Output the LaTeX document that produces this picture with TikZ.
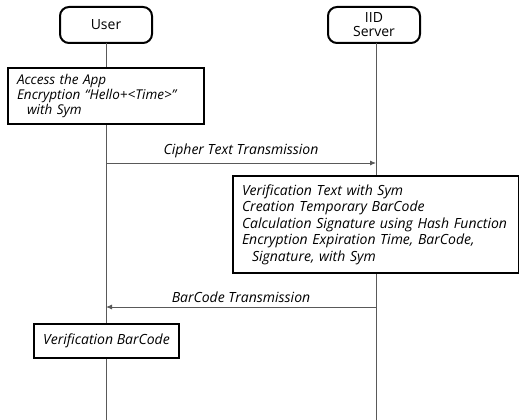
\documentclass[tikz,border=0pt]{standalone}
\usepackage{fontspec}
\setmainfont{Open Sans}
\usetikzlibrary{arrows.meta}
\begin{document}
\begin{tikzpicture}[x=1pt,y=-1pt,
  actor/.style={draw,line width=2pt,rounded corners=9pt,fill=white,
    minimum width=92pt,minimum height=36pt,inner sep=0pt,align=center,
    font=\fontsize{14}{16}\selectfont},
  lifeline/.style={draw=black!65,line width=0.9pt},
  stepbox/.style={draw,line width=2pt,fill=white,anchor=north west,
    inner xsep=9pt,inner ysep=0pt,align=left,
    font=\fontsize{13.5}{15}\selectfont\itshape},
  msg/.style={draw=black!65,line width=0.9pt,-{Latex[length=6pt,width=5pt]}},
  msglabel/.style={font=\fontsize{14}{16}\selectfont\itshape}]
  \useasboundingbox (0,0) rectangle (519,420);
  % participants
  \node[actor] (user) at (106,25) {User};
  \node[actor] (server) at (374,25) {IID\\[-2pt]Server};
  % lifelines
  \coordinate (userend) at (106,420);
  \coordinate (serverend) at (376,420);
  \draw[lifeline] (106,43) -- (userend);
  \draw[lifeline] (376,43) -- (serverend);
  % message anchors on the lifelines
  \coordinate (u1) at (106,163);
  \coordinate (s1) at (376,163);
  \coordinate (s2) at (376,307);
  \coordinate (u2) at (106,307);
  % processing steps
  \node[stepbox,minimum width=196pt,minimum height=56pt,text width=178pt] (access) at (7,67)
    {Access the App\\Encryption “Hello+<Time>”\\\hspace*{10pt}with Sym};
  \node[stepbox,minimum width=286pt,minimum height=97pt,text width=268pt,
    font=\fontsize{14}{16.5}\selectfont\itshape] (verify) at (232,175)
    {Verification Text with Sym\\Creation Temporary BarCode\\Calculation Signature using Hash Function\\Encryption Expiration Time, BarCode,\\\hspace*{10pt}Signature, with Sym};
  \node[stepbox,minimum width=145pt,minimum height=34pt,inner xsep=4pt,align=center,
    font=\fontsize{14}{16}\selectfont\itshape] (check) at (33,323)
    {Verification BarCode};
  % messages
  \draw[msg] (u1) -- node[msglabel,above=1pt] (m1) {Cipher Text Transmission} (s1);
  \draw[msg] (s2) -- node[msglabel,above=1pt] (m2) {BarCode Transmission} (u2);
\end{tikzpicture}
\end{document}
